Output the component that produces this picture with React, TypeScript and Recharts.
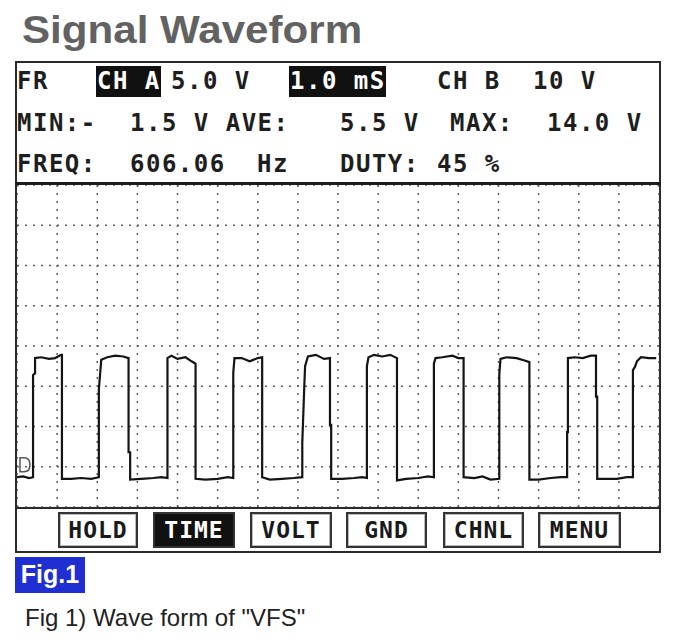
import React from "react";
import { CartesianGrid, Line, LineChart, ReferenceDot, XAxis, YAxis } from "recharts";

// scope settings: 1.0 ms/div, 5 V/div
const timeTicks = [0, 1, 2, 3, 4, 5, 6, 7, 8, 9, 10, 11, 12, 13, 14, 15, 16];
const voltTicks = [-5, 0, 5, 10, 15, 20, 25, 30, 35];

// trace (ms, V)
const traceMs = [
  0, 0.15, 0.3, 0.4, 0.4, 0.45, 0.45, 0.6, 0.8, 0.95, 1.1, 1.12, 1.12, 1.35, 1.6, 1.85,
  2.04, 2.04, 2.1, 2.25, 2.45, 2.65, 2.78, 2.78, 2.82, 2.82, 3.1, 3.4, 3.6,
  3.75, 3.75, 3.85, 4.0, 4.2, 4.35, 4.45, 4.45, 4.7, 5.0, 5.25,
  5.39, 5.39, 5.42, 5.6, 5.8, 6.0, 6.11, 6.11, 6.3, 6.6, 6.9,
  7.11, 7.11, 7.16, 7.18, 7.25, 7.45, 7.65, 7.8, 7.8, 7.83, 7.83, 8.1, 8.4, 8.6,
  8.72, 8.72, 8.76, 8.9, 9.1, 9.3, 9.47, 9.47, 9.7, 10.0, 10.25,
  10.39, 10.39, 10.43, 10.6, 10.85, 11.0, 11.13, 11.13, 11.4, 11.6, 11.8,
  12.02, 12.02, 12.05, 12.2, 12.45, 12.65, 12.77, 12.77, 13.0, 13.3, 13.55,
  13.71, 13.71, 13.73, 13.73, 13.9, 14.1, 14.3, 14.43, 14.43, 14.46, 14.46, 14.7, 14.95, 15.2,
  15.35, 15.35, 15.4, 15.45, 15.55, 15.75, 15.93,
];
const traceV = [
  -1.3, -1.2, -1.4, -1.3, 11.4, 11.6, 13.5, 13.6, 13.4, 13.5, 13.9, 13.9, -1.5, -1.5, -1.4, -1.5,
  -1.3, 9.6, 13.3, 13.6, 13.8, 13.7, 13.5, 1.8, 1.8, -1.6, -1.5, -1.4, -1.3,
  -1.4, 13.5, 13.8, 13.4, 13.6, 13.1, 12.8, -1.5, -1.6, -1.5, -1.3,
  -1.4, 11.7, 13.5, 13.5, 13.1, 13.5, 13.6, -1.3, -1.6, -1.5, -1.4,
  -1.3, 3.0, 10.0, 12.5, 13.7, 13.9, 13.4, 13.5, 5.2, 5.2, -1.5, -1.5, -1.4, -1.3,
  -1.4, 12.5, 13.6, 13.9, 13.7, 13.9, 13.5, -1.7, -1.5, -1.4, -1.2,
  -1.3, 12.8, 13.5, 13.6, 13.8, 13.5, 13.5, -1.3, -1.4, -1.2, -1.6,
  -1.5, 11.5, 13.4, 13.6, 13.5, 13.2, 13.0, -1.6, -1.6, -1.4, -1.3,
  -1.3, 4.3, 4.3, 13.5, 13.6, 13.5, 13.8, 13.8, 8.7, 8.7, -1.5, -1.5, -1.5, -1.3,
  -1.3, 12.0, 12.4, 13.1, 13.6, 13.5, 13.5,
];

const headerRows = [
  { top: 70, items: [["FR", 17], ["CH A", 97, true], ["5.0 V", 171], ["1.0 mS", 290, true], ["CH B", 437], ["10 V", 533]] },
  { top: 112, items: [["MIN:-", 17], ["1.5 V AVE:", 130], ["5.5 V", 340], ["MAX:", 450], ["14.0 V", 547]] },
  { top: 153, items: [["FREQ:", 17], ["606.06", 130], ["Hz", 257], ["DUTY:", 340], ["45 %", 437]] },
] as { top: number; items: [string, number, boolean?][] }[];

const buttons = [
  { label: "HOLD", x: 58, w: 80 },
  { label: "TIME", x: 153, w: 82, on: true },
  { label: "VOLT", x: 250, w: 82 },
  { label: "GND", x: 346, w: 81 },
  { label: "CHNL", x: 443, w: 81 },
  { label: "MENU", x: 538, w: 83 },
];

const data = traceMs.map((t, i) => ({ t, v: traceV[i] }));

const MONO = "'DejaVu Sans Mono', monospace";

function GroundMark(props: any) {
  const { cx, cy } = props;
  const x = cx + 3;
  const y = cy - 2;
  return (
    <path
      d={`M${x} ${y - 7} L${x + 4} ${y - 7} Q${x + 10} ${y - 7} ${x + 10} ${y} Q${x + 10} ${y + 7} ${x + 4} ${y + 7} L${x} ${y + 7} Z`}
      fill="none"
      stroke="#555"
      strokeWidth={1.5}
    />
  );
}

export default function App() {
  return (
    <div style={{ position: "relative", width: 676, height: 638, background: "#fff", overflow: "hidden" }}>
      <style>{"body{margin:0}"}</style>

      <div
        style={{
          position: "absolute",
          left: 22,
          top: 10,
          fontFamily: "'Liberation Sans', Arial, sans-serif",
          fontWeight: 700,
          fontSize: 39,
          lineHeight: "39px",
          color: "#626262",
          transform: "scaleX(1.08)",
          transformOrigin: "left",
          whiteSpace: "nowrap",
        }}
      >
        Signal Waveform
      </div>

      {/* scope frame */}
      <div
        style={{
          position: "absolute",
          left: 15,
          top: 61,
          width: 646,
          height: 492,
          border: "2px solid #2a2a2a",
          boxSizing: "border-box",
        }}
      />
      <div style={{ position: "absolute", left: 15, top: 182, width: 646, height: 3, background: "#1c1c1c" }} />
      <div style={{ position: "absolute", left: 15, top: 507, width: 646, height: 2, background: "#2a2a2a" }} />

      {headerRows.map((row, r) =>
        row.items.map(([text, x, hi], i) => (
          <div
            key={`${r}-${i}`}
            style={{
              position: "absolute",
              left: hi ? x - 1 : x,
              top: hi ? row.top - 4 : row.top,
              padding: hi ? "4px 0 4px 1px" : 0,
              background: hi ? "#111" : "transparent",
              color: hi ? "#fff" : "#1e1e1e",
              fontFamily: MONO,
              fontWeight: 700,
              fontSize: 24,
              lineHeight: "23px",
              letterSpacing: 1.5,
              whiteSpace: "pre",
            }}
          >
            {text}
          </div>
        ))
      )}

      <div style={{ position: "absolute", left: 17, top: 185 }}>
        <LineChart width={642} height={322} data={data} margin={{ top: 0, right: 0, bottom: 0, left: 0 }}>
          <CartesianGrid stroke="#5e5e5e" strokeDasharray="2 6" strokeWidth={1.5} />
          <XAxis dataKey="t" type="number" domain={[0, 16]} ticks={timeTicks} hide />
          <YAxis type="number" domain={[-5, 35]} ticks={voltTicks} hide />
          <Line
            type="linear"
            dataKey="v"
            stroke="#141414"
            strokeWidth={2.2}
            dot={false}
            isAnimationActive={false}
          />
          <ReferenceDot x={0} y={0} r={0} shape={GroundMark} ifOverflow="visible" />
        </LineChart>
      </div>

      {buttons.map((b) => (
        <div
          key={b.label}
          style={{
            position: "absolute",
            left: b.x,
            top: 512,
            width: b.w,
            height: 36,
            boxSizing: "border-box",
            border: "2px solid #333",
            boxShadow: b.on ? "none" : "inset 0 0 0 1px #bbb",
            background: b.on ? "#111" : "#fff",
            color: b.on ? "#fff" : "#1a1a1a",
            fontFamily: MONO,
            fontWeight: 700,
            fontSize: 23,
            lineHeight: "32px",
            letterSpacing: 1,
            textAlign: "center",
          }}
        >
          {b.label}
        </div>
      ))}

      <div
        style={{
          position: "absolute",
          left: 15,
          top: 557,
          width: 70,
          height: 36,
          background: "#1f2fd2",
          color: "#fff",
          fontFamily: "'Liberation Sans', Arial, sans-serif",
          fontWeight: 700,
          fontSize: 25,
          lineHeight: "34px",
          textAlign: "center",
        }}
      >
        Fig.1
      </div>

      <div
        style={{
          position: "absolute",
          left: 25,
          top: 606,
          fontFamily: "'Liberation Sans', Arial, sans-serif",
          fontSize: 24,
          lineHeight: "24px",
          color: "#222",
          whiteSpace: "nowrap",
        }}
      >
        Fig 1) Wave form of "VFS"
      </div>
    </div>
  );
}
